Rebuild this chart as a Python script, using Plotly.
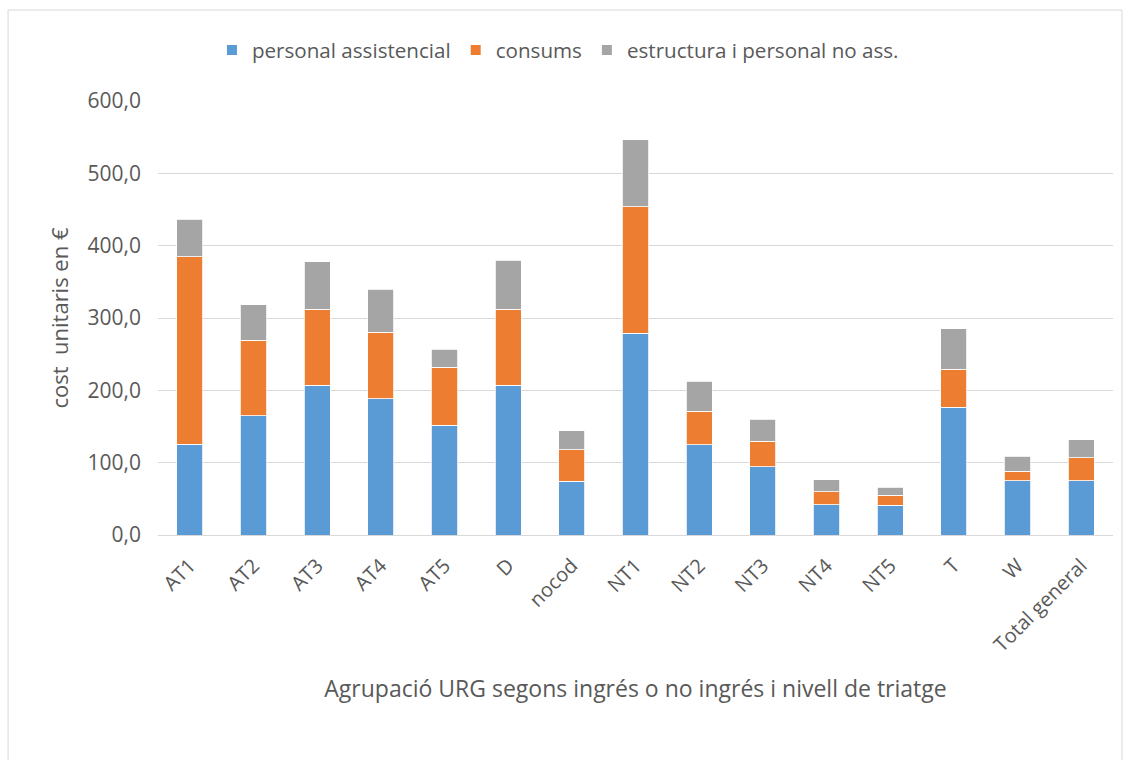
import plotly.graph_objects as go

categories = ["AT1", "AT2", "AT3", "AT4", "AT5", "D", "nocod", "NT1", "NT2",
              "NT3", "NT4", "NT5", "T", "W", "Total general"]
personal_assistencial = [125.5, 165.2, 206.8, 188.3, 151.8, 206.8, 74.3, 279.2,
                         125.1, 94.6, 42.0, 41.1, 176.3, 74.8, 74.8]
consums = [259.0, 103.9, 105.2, 91.9, 79.9, 105.2, 43.9, 174.5,
           46.1, 35.1, 17.5, 13.8, 53.1, 13.4, 31.8]
estructura = [51.7, 49.4, 65.5, 59.5, 25.4, 67.8, 25.8, 92.8,
              41.1, 30.5, 16.7, 11.1, 55.4, 20.7, 24.9]
y_ticks = [0, 100, 200, 300, 400, 500, 600]

FONT = "'Open Sans', Lato, sans-serif"
TEXT = "#595959"

fig = go.Figure()
for name, vals, col in [
    ("personal assistencial", personal_assistencial, "#5B9BD5"),
    ("consums", consums, "#ED7D31"),
    ("estructura i personal no ass.", estructura, "#A5A5A5"),
]:
    fig.add_trace(go.Bar(
        x=categories, y=vals, name=name,
        marker=dict(color=col, line=dict(color="white", width=0.8)),
    ))

fig.update_layout(
    barmode="stack",
    bargap=0.59,
    width=1131, height=760,
    margin=dict(l=158, r=18, t=101, b=225),
    paper_bgcolor="white", plot_bgcolor="white",
    font=dict(family=FONT, color=TEXT, size=20),
    separators=",.",
    showlegend=True,
    legend=dict(
        orientation="h", x=0.0565, xanchor="left", y=1.1175, yanchor="middle",
        font=dict(size=20.6, color=TEXT), traceorder="normal",
        itemwidth=30, itemsizing="constant",
    ),
    xaxis=dict(
        tickangle=-45, tickfont=dict(size=20, color=TEXT),
        showline=True, linecolor="#D9D9D9", linewidth=1,
        ticks="", ticklabelstandoff=10,
        title=dict(text="Agrupació URG segons ingrés o no ingrés i nivell de triatge",
                   font=dict(size=23, color=TEXT), standoff=24),
    ),
    yaxis=dict(
        range=[0, 600], tickvals=y_ticks, tickformat=".1f",
        tickfont=dict(size=21, color=TEXT),
        gridcolor="#D9D9D9", gridwidth=1, zeroline=False,
        ticks="", ticklen=0, ticklabelstandoff=16,
        title=dict(text="cost  unitaris en €", font=dict(size=22, color=TEXT),
                   standoff=12),
    ),
    shapes=[dict(
        type="rect", xref="paper", yref="paper",
        x0=-0.157, x1=1.0094, y0=-0.56, y1=1.2097,
        line=dict(color="#D9D9D9", width=1), layer="below",
    )],
)

fig.write_html("out.html")
